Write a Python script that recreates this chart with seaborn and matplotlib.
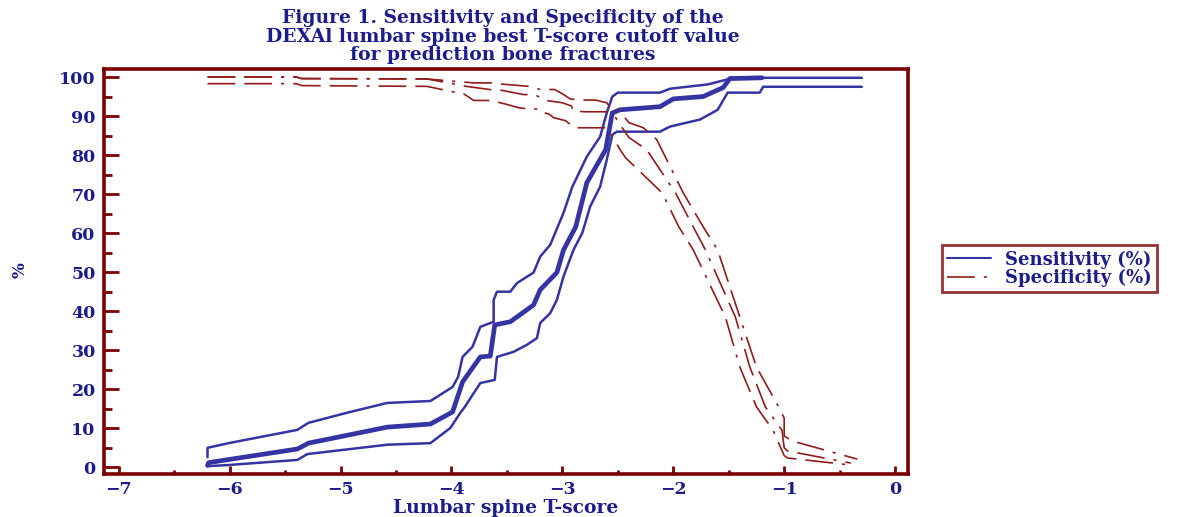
import numpy as np
import pandas as pd
import matplotlib
matplotlib.use("Agg")
import matplotlib.pyplot as plt
import seaborn as sns

# sensitivity curve and its confidence band (T-score, %)
sens_x = [-6.2, -6.19, -6.01, -5.39, -5.29, -4.58, -4.19, -3.99, -3.90, -3.74, -3.65, -3.61, -3.47, -3.26,
          -3.20, -3.05, -2.99, -2.88, -2.78, -2.61, -2.55, -2.48, -2.12, -2.00, -1.73, -1.55, -1.49, -1.20]
sens = [0.5, 1.2, 2.0, 4.7, 6.2, 10.3, 11.1, 14.2, 21.9, 28.3, 28.5, 36.5, 37.3, 41.6,
        45.5, 49.9, 55.7, 61.6, 72.9, 81.4, 90.8, 91.6, 92.4, 94.4, 95.0, 97.3, 99.6, 99.8]

sens_hi_x = [-6.2, -6.2, -6.01, -5.39, -5.29, -4.94, -4.58, -4.19, -3.99, -3.94, -3.90, -3.81, -3.74, -3.62,
             -3.62, -3.59, -3.47, -3.41, -3.26, -3.20, -3.11, -2.99, -2.91, -2.78, -2.66, -2.60, -2.55,
             -2.50, -2.12, -2.03, -1.69, -1.51, -1.49, -0.30]
sens_hi = [2.6, 5.0, 6.2, 9.6, 11.4, 14.0, 16.5, 17.0, 20.6, 23.2, 28.3, 30.9, 36.0, 37.3,
           42.9, 45.0, 45.0, 47.2, 49.9, 54.0, 57.0, 65.2, 71.9, 79.6, 84.7, 90.8, 95.0,
           96.0, 96.0, 97.0, 98.1, 99.4, 99.8, 99.8]

sens_lo_x = [-6.2, -6.01, -5.39, -5.30, -4.58, -4.19, -4.01, -3.92, -3.88, -3.74, -3.61, -3.59, -3.44, -3.32,
             -3.23, -3.20, -3.11, -3.05, -2.99, -2.90, -2.82, -2.75, -2.66, -2.60, -2.55, -2.51, -2.12,
             -2.03, -1.76, -1.60, -1.51, -1.22, -1.19, -0.30]
sens_lo = [0.3, 0.6, 1.9, 3.4, 5.8, 6.2, 10.1, 14.0, 15.5, 21.6, 22.4, 28.3, 29.6, 31.4,
           33.1, 37.0, 39.5, 42.9, 48.9, 55.7, 60.1, 66.8, 71.9, 78.8, 85.2, 86.0, 86.0,
           87.3, 89.1, 91.6, 96.0, 96.0, 97.5, 97.5]

# specificity curve and its confidence band
spec_x = [-6.2, -5.4, -5.35, -4.22, -3.97, -3.89, -3.63, -3.55, -3.35, -3.25, -3.15, -3.00, -2.92, -2.90,
          -2.80, -2.60, -2.52, -2.48, -2.40, -2.24, -1.98, -1.82, -1.71, -1.44, -1.31, -1.17, -1.02,
          -1.00, -0.97, -0.40]
spec = [100, 100, 99.6, 99.5, 98.2, 97.7, 96.7, 96.6, 95.5, 95.5, 94.0, 93.4, 92.6, 91.3,
        91.1, 91.1, 89.6, 87.8, 84.5, 81.4, 70.3, 61.6, 55.7, 38.5, 25.7, 15.5, 9.5,
        5.0, 4.2, 1.1]

spec_hi_x = [-6.2, -5.4, -5.35, -4.22, -3.97, -3.80, -3.63, -3.55, -3.30, -3.20, -3.07, -3.00, -2.93, -2.84,
             -2.70, -2.60, -2.58, -2.53, -2.48, -2.40, -2.27, -2.15, -1.91, -1.73, -1.60, -1.40, -1.25,
             -1.05, -1.00, -1.00, -0.92, -0.34]
spec_hi = [100, 100, 99.6, 99.5, 98.9, 98.5, 98.5, 98.2, 97.6, 96.8, 96.8, 95.7, 94.4, 94.1,
           94.1, 93.4, 92.6, 92.6, 91.1, 88.3, 87.0, 84.0, 70.3, 61.6, 55.7, 38.5, 25.7,
           15.5, 12.6, 8.0, 6.7, 2.1]

spec_lo_x = [-6.2, -5.4, -5.35, -4.22, -3.97, -3.89, -3.80, -3.67, -3.60, -3.49, -3.39, -3.30, -3.20, -3.16,
             -3.12, -3.08, -2.97, -2.95, -2.88, -2.60, -2.55, -2.52, -2.48, -2.43, -2.10, -1.95, -1.82,
             -1.53, -1.40, -1.25, -1.10, -1.00, -0.97, -0.40]
spec_lo = [98.3, 98.3, 97.8, 97.6, 96.1, 95.7, 94.0, 94.0, 93.7, 92.9, 92.1, 91.8, 91.8, 90.8,
           90.5, 89.6, 88.8, 88.3, 87.0, 87.0, 84.7, 83.4, 81.4, 79.3, 70.3, 61.6, 55.7,
           38.5, 25.7, 15.5, 9.5, 3.0, 2.4, 0.6]

x_ticks = [-7, -6, -5, -4, -3, -2, -1, 0]
y_ticks = [0, 10, 20, 30, 40, 50, 60, 70, 80, 90, 100]
title_lines = ["Figure 1. Sensitivity and Specificity of the",
               "DEXAl lumbar spine best T-score cutoff value",
               "for prediction bone fractures"]

sns.set_style("ticks")
plt.rcParams['font.family'] = ['DejaVu Serif']
plt.rcParams['font.weight'] = 'bold'
plt.rcParams['lines.scale_dashes'] = False

navy = "#1c1c8c"
maroon = "#7a0000"
blue = "#3434a2"
red = "#8e1c1c"
dash = (0, (20, 6.5, 20, 6.5, 2.2, 6.5))

fig = plt.figure(figsize=(11.81, 5.17), dpi=100)
ax = fig.add_axes([0.0881, 0.0832, 0.6808, 0.7833])

sns.lineplot(x=sens_hi_x, y=sens_hi, ax=ax, sort=False, estimator=None, color=blue, lw=1.8)
sns.lineplot(x=sens_lo_x, y=sens_lo, ax=ax, sort=False, estimator=None, color=blue, lw=1.8)
sns.lineplot(x=sens_x, y=sens, ax=ax, sort=False, estimator=None, color=blue, lw=3.4)
sns.lineplot(x=spec_hi_x, y=spec_hi, ax=ax, sort=False, estimator=None, color=red, lw=1.2, linestyle=dash)
sns.lineplot(x=spec_lo_x, y=spec_lo, ax=ax, sort=False, estimator=None, color=red, lw=1.2, linestyle=dash)
sns.lineplot(x=spec_x, y=spec, ax=ax, sort=False, estimator=None, color=red, lw=1.2, linestyle=dash)

ax.set_xlim(-7.133, 0.117)
ax.set_ylim(-1.7, 102.05)
ax.set_xticks(x_ticks)
ax.set_yticks(y_ticks)
ax.set_xticks(np.arange(-6.5, 0, 1.0), minor=True)
ax.set_yticks(np.arange(5, 100, 10), minor=True)
ax.tick_params(axis='y', which='major', direction='in', length=11, width=2, color=maroon,
               labelsize=12.5, labelcolor=navy, pad=6)
ax.tick_params(axis='y', which='minor', direction='in', length=6, width=2, color=maroon)
ax.tick_params(axis='x', which='major', direction='in', length=6, width=2, color=maroon,
               labelsize=12.5, labelcolor=navy, pad=5)
ax.tick_params(axis='x', which='minor', direction='in', length=3, width=2, color=maroon)
for lab in ax.get_xticklabels() + ax.get_yticklabels():
    lab.set_fontweight('bold')
for s in ax.spines.values():
    s.set_color(maroon)
    s.set_linewidth(2.6)

ax.set_xlabel("Lumbar spine T-score", fontsize=13.5, color=navy, fontweight='bold', labelpad=1)
fig.text(0.0169, 0.478, "%", rotation=90, fontsize=12, color=navy, fontweight='bold',
         ha='center', va='center')

for i, line in enumerate(title_lines):
    fig.text(0.426, 1 - (18 + 18.5 * i) / 517, line, ha='center', va='center',
             fontsize=13.5, color=navy, fontweight='bold')

handles = [plt.Line2D([], [], color=blue, lw=1.5),
           plt.Line2D([], [], color=red, lw=1.2, linestyle=(0, (20, 6.5, 2.2, 6.5)))]
leg = fig.legend(handles, ["Sensitivity (%)", "Specificity (%)"], loc='upper left',
                 bbox_to_anchor=(942 / 1181, 1 - 245 / 517), borderaxespad=0,
                 fancybox=False, edgecolor=maroon, handlelength=2.4, handletextpad=0.8,
                 labelspacing=0.0, borderpad=0.3, prop={'size': 13, 'weight': 'bold'})
leg.get_frame().set_linewidth(2)
for t in leg.get_texts():
    t.set_color(navy)

fig.savefig("out.png", dpi=100)
